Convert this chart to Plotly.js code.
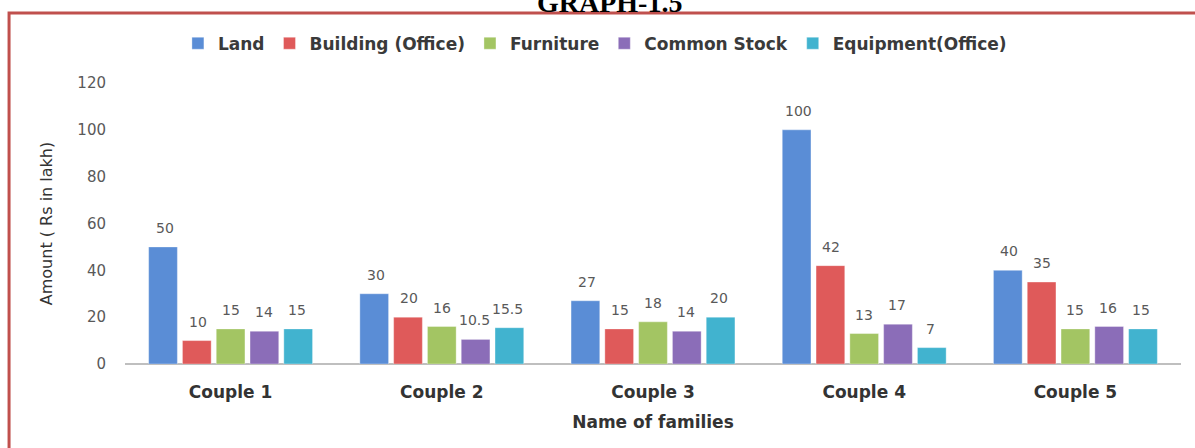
<!DOCTYPE html>
<html>
<head>
<meta charset="utf-8">
<script src="https://cdn.plot.ly/plotly-3.0.1.min.js"></script>
<style>html,body{margin:0;padding:0;background:#fff;}#chart{width:1195px;height:448px;}</style>
</head>
<body>
<div id="chart"></div>
<script>
const categories = ["Couple 1", "Couple 2", "Couple 3", "Couple 4", "Couple 5"];
const seriesNames = ["Land", "Building (Office)", "Furniture", "Common Stock", "Equipment(Office)"];
const land = [50, 30, 27, 100, 40];
const building = [10, 20, 15, 42, 35];
const furniture = [15, 16, 18, 13, 15];
const commonStock = [14, 10.5, 14, 17, 16];
const equipment = [15, 15.5, 20, 7, 15];
const yTicks = [0, 20, 40, 60, 80, 100, 120];
const colors = ["#5a8dd6", "#df5a5a", "#a3c563", "#8b6db8", "#41b3cf"];

const allSeries = [land, building, furniture, commonStock, equipment];
const traces = allSeries.map((vals, i) => ({
  type: "bar",
  name: seriesNames[i],
  x: categories,
  y: vals,
  marker: {
    color: colors[i],
    line: {color: "rgba(255,255,255,0.35)", width: 1}
  },
  hoverinfo: "x+y+name"
}));

// value labels above bars
const slot = 33; // px per bar slot within group
const annotations = [];
allSeries.forEach((vals, i) => {
  vals.forEach((v, j) => {
    annotations.push({
      x: categories[j], y: v, xref: "x", yref: "y",
      text: String(v), showarrow: false,
      xshift: (i - 2) * slot, yshift: 19, yanchor: "middle",
      font: {family: "DejaVu Sans", size: 14, color: "#595959"}
    });
  });
});
annotations.push({
  text: "<b>GRAPH-1.5</b>", xref: "paper", yref: "paper", x: 0.459, y: 1.224,
  xanchor: "center", yanchor: "bottom", showarrow: false,
  font: {family: "Liberation Serif", size: 28, color: "#000"}
});

const layout = {
  width: 1195, height: 448,
  margin: {l: 125, r: 14, t: 83, b: 84},
  paper_bgcolor: "#ffffff", plot_bgcolor: "#ffffff",
  barmode: "group", bargap: 0.2, bargroupgap: 0.15,
  font: {family: "DejaVu Sans", color: "#404040"},
  showlegend: true,
  legend: {
    orientation: "h", x: 0.445, xanchor: "center", y: 1.14, yanchor: "middle",
    font: {family: "DejaVu Sans", size: 17, color: "#3a3a3a", weight: "bold"},
    itemwidth: 30, bgcolor: "rgba(0,0,0,0)"
  },
  xaxis: {
    showgrid: false, zeroline: false, showline: false,
    ticks: "", ticklabelstandoff: 16,
    tickfont: {family: "DejaVu Sans", size: 17, color: "#333333", weight: "bold"},
    title: {text: "<b>Name of families</b>", font: {family: "DejaVu Sans", size: 17, color: "#333333"}, standoff: 15}
  },
  yaxis: {
    range: [0, 120], tickvals: yTicks, showgrid: false, zeroline: true,
    zerolinecolor: "#bfbfbf", zerolinewidth: 2, showline: false, ticks: "",
    ticklabelstandoff: 18,
    tickfont: {family: "DejaVu Sans", size: 15, color: "#595959"},
    title: {text: "Amount ( Rs in lakh)", font: {family: "DejaVu Sans", size: 16, color: "#333333"}, standoff: 20}
  },
  annotations: annotations,
  shapes: [
    {type: "rect", xref: "paper", yref: "paper", x0: -0.1098, x1: 1.03, y0: -0.32, y1: 1.249,
     line: {color: "#c0504d", width: 3}, layer: "above"}
  ]
};

Plotly.newPlot("chart", traces, layout, {displayModeBar: false, staticPlot: true});
</script>
</body>
</html>
